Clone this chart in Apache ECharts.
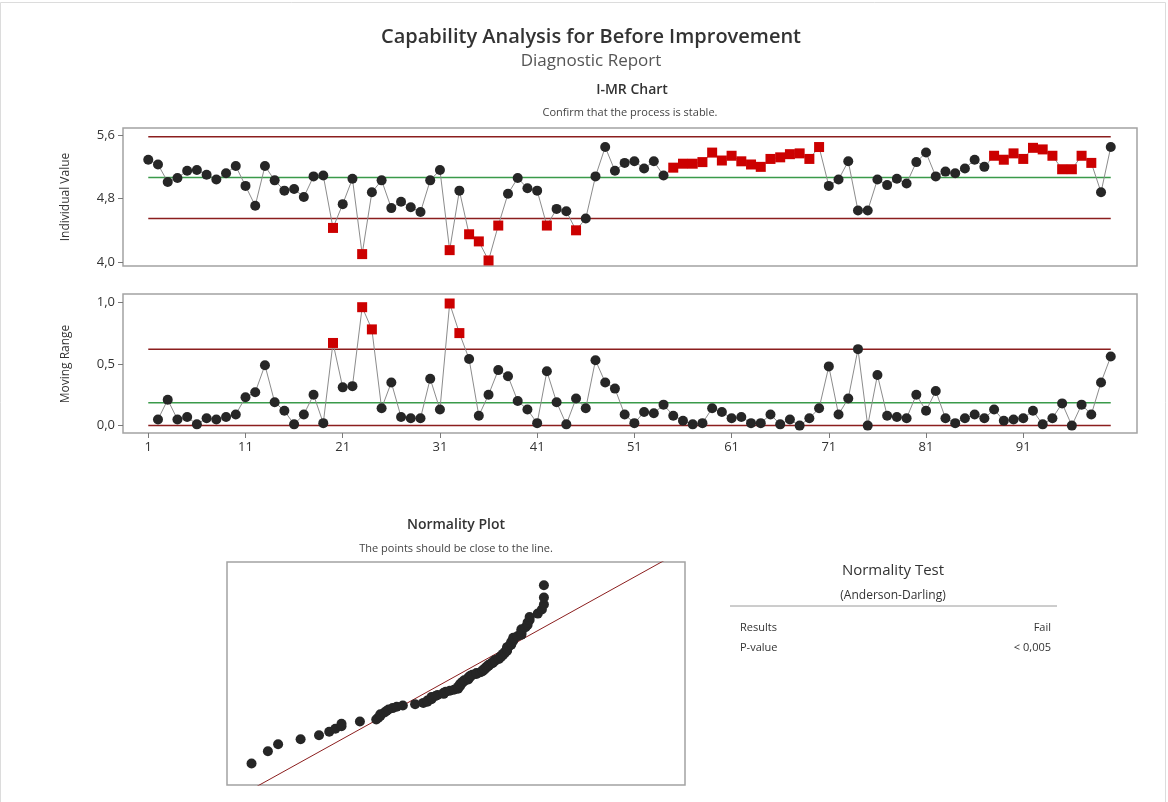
<!DOCTYPE html>
<html>
<head>
<meta charset="utf-8">
<script src="https://cdn.jsdelivr.net/npm/echarts@6/dist/echarts.min.js"></script>
<style>
  html, body { margin: 0; padding: 0; background: #fff; }
  #chart { width: 1168px; height: 802px; }
</style>
</head>
<body>
<div id="chart"></div>
<script>
// Individual observations (Before Improvement), in run order 1..100
const individualValues = [
  5.29, 5.23, 5.01, 5.06, 5.15, 5.16, 5.10, 5.04, 5.12, 5.21,
  4.96, 4.71, 5.21, 5.03, 4.90, 4.92, 4.82, 5.08, 5.09, 4.43,
  4.73, 5.05, 4.10, 4.88, 5.03, 4.68, 4.76, 4.69, 4.63, 5.03,
  5.16, 4.15, 4.90, 4.35, 4.26, 4.02, 4.46, 4.86, 5.06, 4.93,
  4.90, 4.46, 4.67, 4.64, 4.40, 4.55, 5.08, 5.45, 5.15, 5.25,
  5.27, 5.18, 5.27, 5.09, 5.19, 5.24, 5.24, 5.26, 5.38, 5.28,
  5.34, 5.27, 5.23, 5.20, 5.30, 5.32, 5.36, 5.37, 5.30, 5.45,
  4.96, 5.04, 5.27, 4.65, 4.65, 5.04, 4.97, 5.05, 4.99, 5.26,
  5.38, 5.08, 5.14, 5.12, 5.18, 5.29, 5.20, 5.34, 5.29, 5.37,
  5.30, 5.44, 5.42, 5.34, 5.17, 5.17, 5.34, 5.25, 4.88, 5.45
];

// Moving ranges for observations 2..100
const movingRanges = [
  0.05, 0.21, 0.05, 0.07, 0.01, 0.06, 0.05, 0.07, 0.09,
  0.23, 0.27, 0.49, 0.19, 0.12, 0.01, 0.09, 0.25, 0.02, 0.67,
  0.31, 0.32, 0.96, 0.78, 0.14, 0.35, 0.07, 0.06, 0.06, 0.38,
  0.13, 0.99, 0.75, 0.54, 0.08, 0.25, 0.45, 0.40, 0.20, 0.13,
  0.02, 0.44, 0.19, 0.01, 0.22, 0.14, 0.53, 0.35, 0.30, 0.09,
  0.02, 0.11, 0.10, 0.17, 0.08, 0.04, 0.01, 0.02, 0.14, 0.11,
  0.06, 0.07, 0.02, 0.02, 0.09, 0.01, 0.05, 0.00, 0.06, 0.14,
  0.48, 0.09, 0.22, 0.62, 0.00, 0.41, 0.08, 0.07, 0.06, 0.25,
  0.12, 0.28, 0.06, 0.02, 0.06, 0.09, 0.06, 0.13, 0.04, 0.05,
  0.06, 0.12, 0.01, 0.06, 0.18, 0.00, 0.17, 0.09, 0.35, 0.56
];

// Observations failing the special-cause tests
const flaggedIndividual = [20, 23, 32, 34, 35, 36, 37, 42, 45,
  55, 56, 57, 58, 59, 60, 61, 62, 63, 64, 65, 66, 67, 68, 69, 70,
  88, 89, 90, 91, 92, 93, 94, 95, 96, 97, 98];
const flaggedMR = [20, 23, 24, 32, 33];

// Control limits: [LCL, center, UCL]
const individualLimits = [4.55, 5.065, 5.58];
const movingRangeLimits = [0.0, 0.186, 0.62];

// Tick labels
const individualTicks = [4.0, 4.8, 5.6];
const movingRangeTicks = [0.0, 0.5, 1.0];
const observationTicks = [1, 11, 21, 31, 41, 51, 61, 71, 81, 91];

const FONT = '"Open Sans", "Noto Sans", sans-serif';
const DOT = '#262626';
const FLAG = '#cc0000';
const LIMIT = '#8b1e1e';
const CENTER = '#3a9a4a';
const JOIN = '#8c8c8c';

const commaFmt = v => v.toFixed(1).replace('.', ',');

// Inverse standard normal CDF (Acklam)
function normInv(p) {
  const a = [-3.969683028665376e+01, 2.209460984245205e+02, -2.759285104469687e+02, 1.383577518672690e+02, -3.066479806614716e+01, 2.506628277459239e+00];
  const b = [-5.447609879822406e+01, 1.615858368580409e+02, -1.556989798598866e+02, 6.680131188771972e+01, -1.328068155288572e+01];
  const c = [-7.784894002430293e-03, -3.223964580411365e-01, -2.400758277161838e+00, -2.549732539343734e+00, 4.374664141464968e+00, 2.938163982698783e+00];
  const d = [7.784695709041462e-03, 3.224671290700398e-01, 2.445134137142996e+00, 3.754408661907416e+00];
  const pl = 0.02425, ph = 1 - pl;
  let q, r;
  if (p < pl) {
    q = Math.sqrt(-2 * Math.log(p));
    return (((((c[0]*q+c[1])*q+c[2])*q+c[3])*q+c[4])*q+c[5]) / ((((d[0]*q+d[1])*q+d[2])*q+d[3])*q+1);
  }
  if (p <= ph) {
    q = p - 0.5; r = q * q;
    return (((((a[0]*r+a[1])*r+a[2])*r+a[3])*r+a[4])*r+a[5])*q / (((((b[0]*r+b[1])*r+b[2])*r+b[3])*r+b[4])*r+1);
  }
  q = Math.sqrt(-2 * Math.log(1 - p));
  return -(((((c[0]*q+c[1])*q+c[2])*q+c[3])*q+c[4])*q+c[5]) / ((((d[0]*q+d[1])*q+d[2])*q+d[3])*q+1);
}

// Series data built from the arrays above
const iPoints = individualValues.map((v, i) => [i + 1, v]);
const iNormal = iPoints.filter(p => !flaggedIndividual.includes(p[0]));
const iFlag = iPoints.filter(p => flaggedIndividual.includes(p[0]));

const mrPoints = movingRanges.map((v, i) => [i + 2, v]);
const mrNormal = mrPoints.filter(p => !flaggedMR.includes(p[0]));
const mrFlag = mrPoints.filter(p => flaggedMR.includes(p[0]));

// Normal probability plot: sorted observations vs. normal scores (median ranks)
const n = individualValues.length;
const sorted = individualValues.slice().sort((x, y) => x - y);
const probPoints = sorted.map((v, i) => [v, normInv((i + 1 - 0.3) / (n + 0.4))]);
const mean = individualValues.reduce((s, v) => s + v, 0) / n;
const sd = Math.sqrt(individualValues.reduce((s, v) => s + (v - mean) ** 2, 0) / (n - 1));
const fitLine = [[mean - 4 * sd, -4], [mean + 4 * sd, 4]];

function hLine(xi, yi, value, color) {
  return {
    type: 'line', xAxisIndex: xi, yAxisIndex: yi,
    data: [[1, value], [100, value]],
    symbol: 'none', silent: true,
    lineStyle: { color: color, width: 1.5 }, z: 2
  };
}

const chart = echarts.init(document.getElementById('chart'), null, { renderer: 'canvas' });

const gridBorder = { show: true, borderColor: '#a3a3a3', borderWidth: 1.5, backgroundColor: '#fff' };

const hiddenAxisBits = {
  axisLine: { show: false, onZero: false }, axisTick: { show: false },
  axisLabel: { show: false }, splitLine: { show: false }
};

const tickStyle = { show: true, length: 5, lineStyle: { color: '#7a7a7a' } };
const labelStyle = { show: true, color: '#333', fontFamily: FONT, fontSize: 13 };

const option = {
  animation: false,
  backgroundColor: '#fff',
  grid: [
    Object.assign({ left: 123, top: 128, width: 1014, height: 138 }, gridBorder),
    Object.assign({ left: 123, top: 294, width: 1014, height: 139 }, gridBorder),
    Object.assign({ left: 227, top: 562, width: 458, height: 223 }, gridBorder)
  ],
  xAxis: [
    Object.assign({ type: 'value', gridIndex: 0, min: -1.6, max: 102.7, position: 'bottom' }, hiddenAxisBits),
    {
      type: 'value', gridIndex: 1, min: -1.6, max: 102.7, position: 'bottom',
      axisLine: { show: false, onZero: false },
      splitLine: { show: false },
      axisTick: Object.assign({ customValues: observationTicks }, tickStyle),
      axisLabel: Object.assign({ customValues: observationTicks, margin: 8 }, labelStyle)
    },
    Object.assign({ type: 'value', gridIndex: 2, min: 3.90, max: 6.14 }, hiddenAxisBits)
  ],
  yAxis: [
    {
      type: 'value', gridIndex: 0, min: 3.95, max: 5.69, position: 'left',
      axisLine: { show: false, onZero: false }, splitLine: { show: false },
      axisTick: Object.assign({ customValues: individualTicks }, tickStyle),
      axisLabel: Object.assign({ customValues: individualTicks, formatter: commaFmt, margin: 8 }, labelStyle)
    },
    {
      type: 'value', gridIndex: 1, min: -0.06, max: 1.067, position: 'left',
      axisLine: { show: false, onZero: false }, splitLine: { show: false },
      axisTick: Object.assign({ customValues: movingRangeTicks }, tickStyle),
      axisLabel: Object.assign({ customValues: movingRangeTicks, formatter: commaFmt, margin: 8 }, labelStyle)
    },
    Object.assign({ type: 'value', gridIndex: 2, min: -3.05, max: 3.1 }, hiddenAxisBits)
  ],
  series: [
    // I chart
    hLine(0, 0, individualLimits[2], LIMIT),
    hLine(0, 0, individualLimits[1], CENTER),
    hLine(0, 0, individualLimits[0], LIMIT),
    {
      type: 'line', xAxisIndex: 0, yAxisIndex: 0, data: iPoints,
      showSymbol: false, symbol: 'none', lineStyle: { color: JOIN, width: 1 }, z: 3
    },
    {
      type: 'scatter', xAxisIndex: 0, yAxisIndex: 0, data: iNormal,
      symbol: 'circle', symbolSize: 10, itemStyle: { color: DOT, opacity: 1 }, z: 4
    },
    {
      type: 'scatter', xAxisIndex: 0, yAxisIndex: 0, data: iFlag,
      symbol: 'rect', symbolSize: 10, itemStyle: { color: FLAG, opacity: 1 }, z: 4
    },
    // MR chart
    hLine(1, 1, movingRangeLimits[2], LIMIT),
    hLine(1, 1, movingRangeLimits[1], CENTER),
    hLine(1, 1, movingRangeLimits[0], LIMIT),
    {
      type: 'line', xAxisIndex: 1, yAxisIndex: 1, data: mrPoints,
      showSymbol: false, symbol: 'none', lineStyle: { color: JOIN, width: 1 }, z: 3
    },
    {
      type: 'scatter', xAxisIndex: 1, yAxisIndex: 1, data: mrNormal,
      symbol: 'circle', symbolSize: 10, itemStyle: { color: DOT, opacity: 1 }, z: 4
    },
    {
      type: 'scatter', xAxisIndex: 1, yAxisIndex: 1, data: mrFlag,
      symbol: 'rect', symbolSize: 10, itemStyle: { color: FLAG, opacity: 1 }, z: 4
    },
    // Normality plot
    {
      type: 'line', xAxisIndex: 2, yAxisIndex: 2, data: fitLine, clip: true,
      symbol: 'none', lineStyle: { color: LIMIT, width: 1 }, z: 2
    },
    {
      type: 'scatter', xAxisIndex: 2, yAxisIndex: 2, data: probPoints,
      symbol: 'circle', symbolSize: 10, itemStyle: { color: DOT, opacity: 1 }, z: 4
    }
  ],
  graphic: [
    { type: 'rect', shape: { x: 0.5, y: 2.5, width: 1165, height: 802 }, style: { fill: 'none', stroke: '#dcdcdc', lineWidth: 1 }, silent: true },
    { type: 'text', x: 591, y: 37, style: { text: 'Capability Analysis for Before Improvement', font: '600 20px ' + FONT, fill: '#333', align: 'center', verticalAlign: 'middle' } },
    { type: 'text', x: 591, y: 61, style: { text: 'Diagnostic Report', font: '17px ' + FONT, fill: '#555', align: 'center', verticalAlign: 'middle' } },
    { type: 'text', x: 632, y: 90, style: { text: 'I-MR Chart', font: '600 14px ' + FONT, fill: '#333', align: 'center', verticalAlign: 'middle' } },
    { type: 'text', x: 630, y: 113, style: { text: 'Confirm that the process is stable.', font: '11px ' + FONT, fill: '#444', align: 'center', verticalAlign: 'middle' } },
    { type: 'text', x: 66, y: 197, rotation: Math.PI / 2, style: { text: 'Individual Value', font: '12px ' + FONT, fill: '#333', align: 'center', verticalAlign: 'middle' } },
    { type: 'text', x: 66, y: 364, rotation: Math.PI / 2, style: { text: 'Moving Range', font: '12px ' + FONT, fill: '#333', align: 'center', verticalAlign: 'middle' } },
    { type: 'text', x: 456, y: 525, style: { text: 'Normality Plot', font: '600 14px ' + FONT, fill: '#333', align: 'center', verticalAlign: 'middle' } },
    { type: 'text', x: 456, y: 549, style: { text: 'The points should be close to the line.', font: '11px ' + FONT, fill: '#444', align: 'center', verticalAlign: 'middle' } },
    { type: 'text', x: 893, y: 571, style: { text: 'Normality Test', font: '15px ' + FONT, fill: '#333', align: 'center', verticalAlign: 'middle' } },
    { type: 'text', x: 893, y: 596, style: { text: '(Anderson-Darling)', font: '12px ' + FONT, fill: '#333', align: 'center', verticalAlign: 'middle' } },
    { type: 'line', shape: { x1: 730, y1: 606, x2: 1057, y2: 606 }, style: { stroke: '#9a9a9a', lineWidth: 1 } },
    { type: 'text', x: 740, y: 628, style: { text: 'Results', font: '11px ' + FONT, fill: '#333', align: 'left', verticalAlign: 'middle' } },
    { type: 'text', x: 1051, y: 628, style: { text: 'Fail', font: '11px ' + FONT, fill: '#333', align: 'right', verticalAlign: 'middle' } },
    { type: 'text', x: 740, y: 648, style: { text: 'P-value', font: '11px ' + FONT, fill: '#333', align: 'left', verticalAlign: 'middle' } },
    { type: 'text', x: 1051, y: 648, style: { text: '< 0,005', font: '11px ' + FONT, fill: '#333', align: 'right', verticalAlign: 'middle' } }
  ]
};

chart.setOption(option);
</script>
</body>
</html>
